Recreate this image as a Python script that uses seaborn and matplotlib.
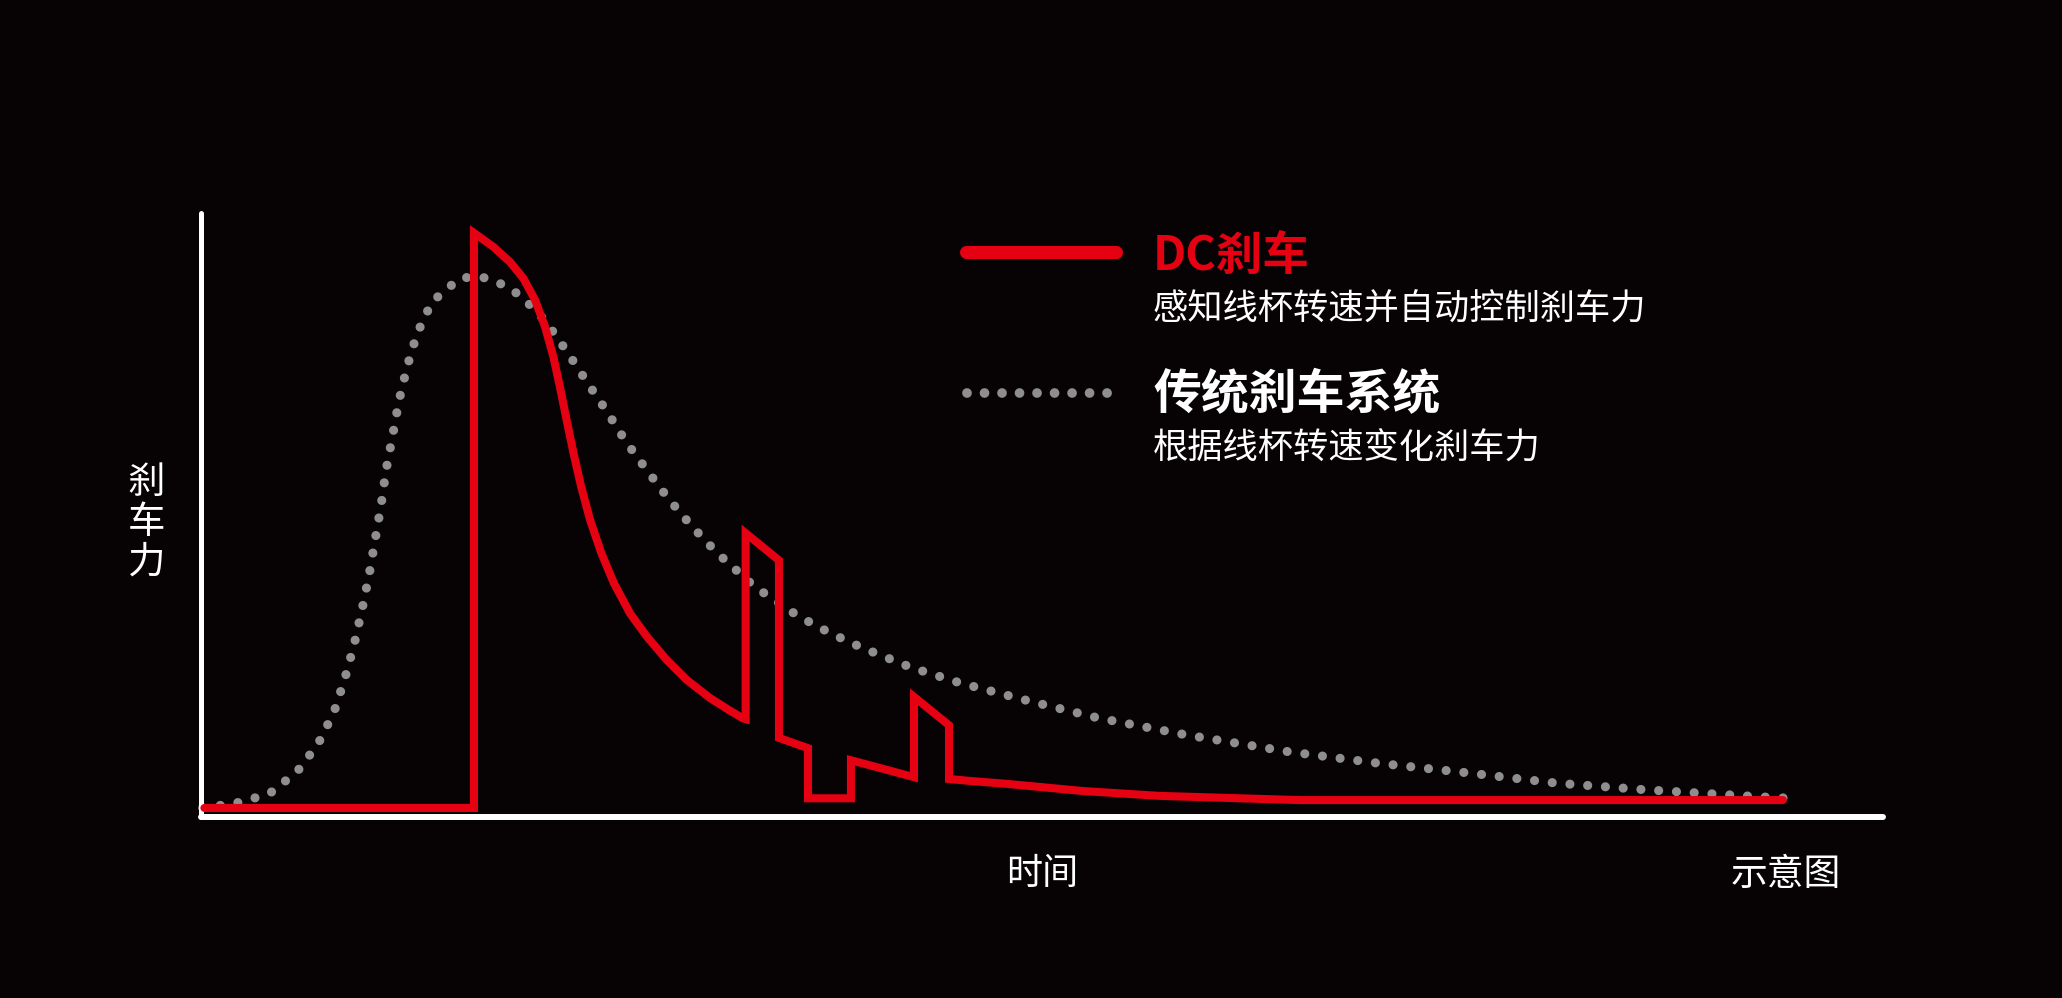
import matplotlib
matplotlib.use("Agg")
import matplotlib.pyplot as plt
from matplotlib.lines import Line2D
import seaborn as sns
import pandas as pd

# DC brake curve (time, brake force)
dc_time = [0.2, 16.23, 16.23, 17.38, 18.37, 19.16, 19.86, 20.45, 20.95, 21.34,
           21.74, 22.15, 22.60, 23.13, 23.80, 24.55, 25.51, 26.50, 27.69, 28.88,
           30.26, 31.45, 32.24, 32.38, 32.38, 34.36, 34.36, 36.09, 36.09, 38.64,
           38.64, 42.39, 42.39, 44.47, 44.47, 45.60, 47.86, 52.44, 56.96, 65.34,
           94.05]
dc_force = [1.5, 1.5, 96.7, 94.4, 91.9, 89.2, 85.6, 81.2, 76.2, 71.2,
            65.7, 60.2, 54.7, 49.2, 43.7, 38.7, 33.7, 29.9, 26.0, 22.7,
            19.7, 17.6, 16.3, 16.2, 47.0, 42.5, 13.1, 11.4, 3.1, 3.1,
            9.4, 6.6, 19.9, 15.2, 6.3, 6.0, 5.5, 4.3, 3.5, 2.8,
            2.8]

# traditional brake curve
trad_time = [0.1, 2.08, 4.04, 5.71, 6.96, 7.91, 8.56, 9.10, 9.57, 9.99,
             10.34, 10.70, 11.00, 11.39, 11.77, 12.25, 12.84, 13.73, 15.34, 16.41,
             17.33, 18.34, 19.20, 20.51, 21.82, 22.95, 24.14, 25.27, 26.49, 27.82,
             29.13, 30.62, 32.88, 35.49, 37.37, 39.24, 42.18, 45.12, 49.23, 53.33,
             58.56, 64.68, 70.01, 75.33, 80.62, 85.91, 92.98, 94.5]
trad_force = [1.5, 2.3, 3.8, 7.5, 12.1, 17.4, 23.0, 28.5, 34.3, 40.0,
              45.7, 51.5, 57.4, 63.1, 68.9, 74.5, 80.0, 85.3, 89.1, 89.6,
              88.9, 87.6, 85.8, 82.0, 76.8, 72.0, 67.1, 62.1, 57.5, 52.6,
              48.3, 43.9, 38.2, 33.3, 30.5, 28.1, 24.8, 22.2, 19.2, 16.4,
              13.6, 10.8, 8.9, 7.3, 5.6, 4.5, 3.3, 3.1]

dc_title = "DC刹车"
dc_desc = "感知线杯转速并自动控制刹车力"
trad_title = "传统刹车系统"
trad_desc = "根据线杯转速变化刹车力"
y_label = "刹车力"
x_label = "时间"
note = "示意图"

BG = "#070304"
RED = "#e50012"
GREY = "#8e8e8e"
DOTS = (0, (0.001, 1.94))

sns.set_theme(style="white")
plt.rcParams["font.family"] = ["Noto Sans CJK SC", "DejaVu Sans"]

W, H = 2062, 998
fig = plt.figure(figsize=(W / 100, H / 100), dpi=100, facecolor=BG)
ax = fig.add_axes([201 / W, 1 - 817 / H, (1883 - 201) / W, (817 - 213) / H])
ax.set_facecolor(BG)

dc_df = pd.DataFrame({"time": dc_time, "force": dc_force})
trad_df = pd.DataFrame({"time": trad_time, "force": trad_force})

sns.lineplot(data=trad_df, x="time", y="force", ax=ax, sort=False,
             estimator=None, color=GREY, linewidth=6.6, zorder=2)
sns.lineplot(data=dc_df, x="time", y="force", ax=ax, sort=False,
             estimator=None, color=RED, linewidth=5.8, zorder=3)
trad_line, dc_line = ax.lines[0], ax.lines[1]
trad_line.set_linestyle(DOTS)
trad_line.set_dash_capstyle("round")
dc_line.set_solid_joinstyle("miter")
dc_line.set_solid_capstyle("round")
for ln in ax.lines:
    ln.set_clip_on(False)

ax.set_xlim(0, 100)
ax.set_ylim(0, 100)
ax.set_xticks([])
ax.set_yticks([])
ax.set_xlabel("")
ax.set_ylabel("")
for side in ["top", "right"]:
    ax.spines[side].set_visible(False)
ax.spines["left"].set_color("white")
ax.spines["left"].set_linewidth(3.6)
ax.spines["bottom"].set_color("white")
ax.spines["bottom"].set_linewidth(4.3)
for side in ["left", "bottom"]:
    ax.spines[side].set_capstyle("round")


def fx(px):
    return px / W


def fy(py):
    return 1 - py / H


# legend keys
fig.add_artist(Line2D([fx(966), fx(1116)], [fy(252), fy(252)], color=RED,
                      linewidth=9.4, solid_capstyle="round"))
fig.add_artist(Line2D([fx(967), fx(1112)], [fy(393), fy(393)], color=GREY,
                      linewidth=7.0, linestyle=(0, (0.001, 1.8)),
                      dash_capstyle="round"))

fig.text(fx(1153), fy(256), dc_title, color=RED, fontsize=33.5,
         fontweight="bold", ha="left", va="center")
fig.text(fx(1153), fy(310), dc_desc, color="white", fontsize=25.4,
         ha="left", va="center")
fig.text(fx(1153), fy(395), trad_title, color="white", fontsize=34.5,
         fontweight="bold", ha="left", va="center")
fig.text(fx(1153), fy(449), trad_desc, color="white", fontsize=25.4,
         ha="left", va="center")

# vertical axis label, one character per line
for i, ch in enumerate(y_label):
    fig.text(fx(146), fy(482 + 40 * i), ch, color="white", fontsize=27,
             ha="center", va="center")

fig.text(fx(1042), fy(874), x_label, color="white", fontsize=26,
         ha="center", va="center")
fig.text(fx(1786), fy(874), note, color="white", fontsize=26.5,
         ha="center", va="center")

fig.savefig("out.png", dpi=100, facecolor=BG)
